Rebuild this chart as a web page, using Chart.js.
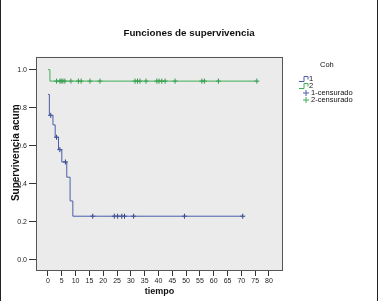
<!DOCTYPE html>
<html>
<head>
<meta charset="utf-8">
<script src="https://cdn.jsdelivr.net/npm/chart.js@4/dist/chart.umd.min.js"></script>
<style>
    html, body { margin: 0; padding: 0; background: #fff; }
    #wrap { width: 378px; height: 301px; position: relative; }
</style>
</head>
<body>
<div id="wrap"><canvas id="survivalChart"></canvas></div>
<script>
// Kaplan-Meier data
const xTicks = [0, 5, 10, 15, 20, 25, 30, 35, 40, 45, 50, 55, 60, 65, 70, 75, 80];
const yTicks = [0, 0.2, 0.4, 0.6, 0.8, 1.0];

// Coh 1 (blue)
const group1Times = [0, 0.5, 1.8, 2.6, 3.8, 5, 6.8, 8, 9, 70.5];
const group1Surv = [0.87, 0.76, 0.71, 0.645, 0.58, 0.515, 0.435, 0.31, 0.23, 0.23];
const group1CensTimes = [1, 3.1, 4.3, 6.3, 16.2, 24, 25.2, 26.7, 27.7, 31, 49.4, 70.5];
const group1CensSurv = [0.76, 0.645, 0.58, 0.515, 0.23, 0.23, 0.23, 0.23, 0.23, 0.23, 0.23, 0.23];

// Coh 2 (green)
const group2Times = [0, 0.7, 75.6];
const group2Surv = [1.0, 0.94, 0.94];
const group2CensTimes = [3.1, 4.3, 4.8, 5.4, 6.1, 8.3, 11, 12, 15.2, 18.8, 31.5, 32.4, 33.3, 35.5,
    39.4, 40.2, 41.2, 42.4, 46, 55.7, 56.6, 61.7, 75.6];
const group2CensSurv = group2CensTimes.map(() => 0.94);

const blue = '#4a5da8';
const green = '#3fae55';
const fontFamily = '"Liberation Sans", Arial, sans-serif';

const toPoints = (xs, ys) => xs.map((x, i) => ({ x: x, y: ys[i] }));

// gray plot area + frame
const plotFrame = {
    id: 'plotFrame',
    beforeDraw(chart) {
        const { ctx, chartArea: a, width, height } = chart;
        ctx.save();
        ctx.fillStyle = '#fff';
        ctx.fillRect(0, 0, width, height);
        ctx.fillStyle = '#ebebeb';
        ctx.fillRect(a.left, a.top, a.right - a.left, a.bottom - a.top);
        ctx.strokeStyle = '#222';
        ctx.lineWidth = 1;
        ctx.beginPath();
        ctx.moveTo(0.5, 0); ctx.lineTo(0.5, height);
        ctx.moveTo(width - 0.5, 0); ctx.lineTo(width - 0.5, height);
        ctx.stroke();
        ctx.restore();
    },
    afterDraw(chart) {
        const { ctx, chartArea: a } = chart;
        ctx.save();
        ctx.strokeStyle = '#555';
        ctx.lineWidth = 1;
        ctx.strokeRect(Math.round(a.left) + 0.5, Math.round(a.top) + 0.5,
            Math.round(a.right - a.left) - 1, Math.round(a.bottom - a.top) - 1);
        ctx.restore();
    }
};

// SPSS style legend on the right
const cohLegend = {
    id: 'cohLegend',
    afterDraw(chart) {
        const ctx = chart.ctx;
        const x0 = chart.chartArea.right + 16;
        ctx.save();
        ctx.font = '7.5px ' + fontFamily;
        ctx.fillStyle = '#111';
        ctx.textBaseline = 'middle';
        ctx.fillText('Coh', x0 + 21, 65);
        const items = [
            { text: '1', color: blue, kind: 'step' },
            { text: '2', color: green, kind: 'step' },
            { text: '1-censurado', color: blue, kind: 'cross' },
            { text: '2-censurado', color: green, kind: 'cross' }
        ];
        items.forEach((item, i) => {
            const y = 79 + i * 7;
            ctx.strokeStyle = item.color;
            ctx.lineWidth = 1;
            ctx.beginPath();
            if (item.kind === 'step') {
                ctx.moveTo(x0, y + 2.5);
                ctx.lineTo(x0 + 5, y + 2.5);
                ctx.lineTo(x0 + 5, y - 2.5);
                ctx.lineTo(x0 + 9, y - 2.5);
                ctx.lineTo(x0 + 9, y + 0.5);
            } else {
                ctx.moveTo(x0 + 4, y);
                ctx.lineTo(x0 + 10, y);
                ctx.moveTo(x0 + 7, y - 3);
                ctx.lineTo(x0 + 7, y + 3);
            }
            ctx.stroke();
            ctx.fillStyle = '#111';
            ctx.fillText(item.text, x0 + (item.kind === 'step' ? 10 : 12), y);
        });
        ctx.restore();
    }
};

function createSurvivalChart() {
    const ctx = document.getElementById('survivalChart');

    new Chart(ctx, {
        type: 'scatter',
        data: {
            datasets: [
                {
                    label: '1',
                    data: toPoints(group1Times, group1Surv),
                    showLine: true,
                    stepped: 'before',
                    borderColor: blue,
                    borderWidth: 1,
                    pointRadius: 0
                },
                {
                    label: '2',
                    data: toPoints(group2Times, group2Surv),
                    showLine: true,
                    stepped: 'before',
                    borderColor: green,
                    borderWidth: 1,
                    pointRadius: 0
                },
                {
                    label: '1-censurado',
                    data: toPoints(group1CensTimes, group1CensSurv),
                    pointStyle: 'cross',
                    pointRadius: 2.5,
                    borderColor: '#2f3f80',
                    borderWidth: 1
                },
                {
                    label: '2-censurado',
                    data: toPoints(group2CensTimes, group2CensSurv),
                    pointStyle: 'cross',
                    pointRadius: 2.5,
                    borderColor: '#2e9444',
                    borderWidth: 1
                }
            ]
        },
        options: {
            responsive: true,
            maintainAspectRatio: false,
            animation: false,
            layout: {
                padding: 0
            },
            plugins: {
                legend: { display: false },
                tooltip: { enabled: false },
                title: {
                    display: true,
                    text: 'Funciones de supervivencia',
                    color: '#111',
                    font: { family: fontFamily, size: 9.8, weight: 'bold' },
                    padding: { top: 27, bottom: 18 }
                }
            },
            scales: {
                x: {
                    type: 'linear',
                    min: -4.34,
                    max: 85.07,
                    afterBuildTicks: (scale) => {
                        scale.ticks = xTicks.map(v => ({ value: v }));
                    },
                    afterFit: (scale) => { scale.height = 30; },
                    border: { display: false },
                    grid: {
                        drawOnChartArea: false,
                        drawTicks: true,
                        tickLength: 5,
                        color: '#333'
                    },
                    ticks: {
                        color: '#222',
                        padding: 1,
                        maxRotation: 0,
                        autoSkip: false,
                        font: { family: fontFamily, size: 7 }
                    },
                    title: {
                        display: true,
                        text: 'tiempo',
                        color: '#111',
                        font: { family: fontFamily, size: 9, weight: 'bold' },
                        padding: { top: 0, bottom: 4 }
                    }
                },
                y: {
                    type: 'linear',
                    min: -0.058,
                    max: 1.068,
                    afterBuildTicks: (scale) => {
                        scale.ticks = yTicks.map(v => ({ value: v }));
                    },
                    afterFit: (scale) => { scale.width = 36; },
                    border: { display: false },
                    grid: {
                        drawOnChartArea: false,
                        drawTicks: true,
                        tickLength: 7,
                        color: '#333'
                    },
                    ticks: {
                        color: '#222',
                        padding: 2,
                        autoSkip: false,
                        font: { family: fontFamily, size: 7 },
                        callback: (value) => value.toFixed(1)
                    },
                    title: {
                        display: true,
                        text: '        Supervivencia acum',
                        color: '#111',
                        font: { family: fontFamily, size: 10, weight: 'bold' },
                        padding: { top: 10, bottom: 0 }
                    }
                },
                // empty axis that keeps room for the legend on the right
                yLegend: {
                    type: 'linear',
                    position: 'right',
                    afterFit: (scale) => { scale.width = 95; },
                    grid: { display: false },
                    border: { display: false },
                    ticks: { display: false }
                }
            }
        },
        plugins: [plotFrame, cohLegend]
    });
}

document.addEventListener('DOMContentLoaded', createSurvivalChart);
</script>
</body>
</html>
